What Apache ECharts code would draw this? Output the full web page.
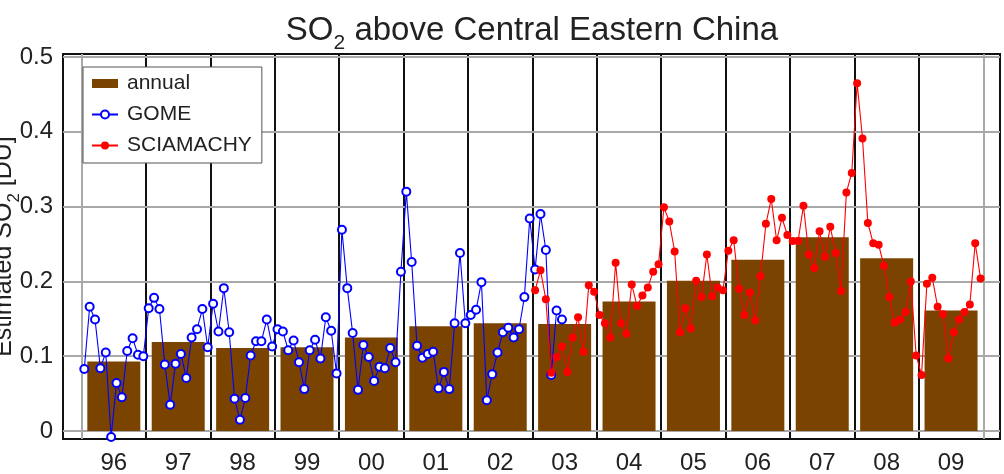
<!DOCTYPE html>
<html>
<head>
<meta charset="utf-8">
<script src="https://cdn.jsdelivr.net/npm/echarts@6/dist/echarts.min.js"></script>
<style>
  html, body { margin: 0; padding: 0; background: #fff; }
  #chart { width: 1004px; height: 474px; }
</style>
</head>
<body>
<div id="chart"></div>
<script>
// year labels on the x axis
const years = ['96', '97', '98', '99', '00', '01', '02', '03', '04', '05', '06', '07', '08', '09'];
const firstYear = 1996;
// annual means (bars)
const annualValues = [0.093, 0.119, 0.111, 0.112, 0.125, 0.140, 0.144, 0.143, 0.173, 0.201, 0.229, 0.259, 0.231, 0.161];
// GOME monthly, Jan 1996 - Jun 2003
const gomeValues = [
  0.083, 0.166, 0.149, 0.084, 0.105, -0.008, 0.064, 0.045, 0.107, 0.124, 0.102, 0.100,
  0.164, 0.178, 0.163, 0.089, 0.035, 0.090, 0.103, 0.071, 0.125, 0.136, 0.163, 0.112,
  0.170, 0.133, 0.191, 0.132, 0.043, 0.015, 0.044, 0.101, 0.120, 0.120, 0.149, 0.113,
  0.136, 0.133, 0.108, 0.121, 0.092, 0.056, 0.108, 0.122, 0.097, 0.152, 0.134, 0.077,
  0.269, 0.191, 0.131, 0.055, 0.115, 0.099, 0.067, 0.086, 0.084, 0.111, 0.092, 0.213,
  0.320, 0.226, 0.114, 0.098, 0.103, 0.106, 0.057, 0.079, 0.056, 0.144, 0.238, 0.144,
  0.155, 0.162, 0.199, 0.041, 0.076, 0.105, 0.132, 0.138, 0.125, 0.136, 0.179, 0.284,
  0.216, 0.290, 0.242, 0.075, 0.161, 0.149
];
const gomeStart = 1996;
// SCIAMACHY monthly, Jan 2003 - Dec 2009
const sciaValues = [
  0.188, 0.215, 0.176, 0.078, 0.099, 0.113, 0.079, 0.125, 0.152, 0.106, 0.195, 0.186,
  0.155, 0.144, 0.125, 0.225, 0.144, 0.130, 0.196, 0.167, 0.181, 0.192, 0.213, 0.223,
  0.299, 0.280, 0.240, 0.132, 0.164, 0.137, 0.201, 0.179, 0.236, 0.180, 0.192, 0.188,
  0.241, 0.255, 0.190, 0.155, 0.185, 0.148, 0.207, 0.277, 0.310, 0.255, 0.285, 0.262,
  0.254, 0.254, 0.301, 0.236, 0.218, 0.267, 0.233, 0.273, 0.238, 0.187, 0.319, 0.345,
  0.465, 0.391, 0.278, 0.251, 0.249, 0.221, 0.179, 0.145, 0.149, 0.159, 0.200, 0.101,
  0.075, 0.197, 0.205, 0.166, 0.156, 0.097, 0.132, 0.149, 0.159, 0.169, 0.251, 0.204
];
const sciaStart = 2003;
// y tick labels
const yTicks = [0, 0.1, 0.2, 0.3, 0.4, 0.5];

const FONT = 'Liberation Sans, Arial, Helvetica, sans-serif';

const annualData = annualValues.map((v, i) => [firstYear + i + 0.5, v]);
const gomeData = gomeValues.map((v, i) => [gomeStart + (i + 0.5) / 12, v]);
const sciaData = sciaValues.map((v, i) => [sciaStart + (i + 0.5) / 12, v]);
const yearMids = years.map((y, i) => firstYear + i + 0.5);

// grid lines: year boundaries and horizontal lines at each tick
const gridLines = [];
for (let i = 0; i <= years.length; i++) {
  const edge = i === 0 || i === years.length;
  gridLines.push({ xAxis: firstYear + i, lineStyle: { color: edge ? '#aaaaaa' : '#111', width: 2, type: 'solid' } });
}
yTicks.forEach(t => {
  gridLines.push({ yAxis: t, lineStyle: { color: '#a8a8a8', width: 2, type: 'solid' } });
});

const subRich = {
  m: { fontSize: 33, fontFamily: FONT, fontWeight: 'normal', color: '#222', verticalAlign: 'bottom', padding: [0, 0, 7, 0] },
  s: { fontSize: 21, fontFamily: FONT, fontWeight: 'normal', color: '#222', verticalAlign: 'bottom' }
};
const nameRich = {
  m: { fontSize: 25, fontFamily: FONT, color: '#222', verticalAlign: 'bottom', padding: [0, 0, 6, 0] },
  s: { fontSize: 17, fontFamily: FONT, color: '#222', verticalAlign: 'bottom' }
};

const yAxisBase = {
  type: 'value',
  min: -0.0107,
  max: 0.504,
  axisLine: { show: false },
  splitLine: { show: false },
  axisTick: {
    show: true,
    inside: true,
    length: 12,
    customValues: yTicks,
    lineStyle: { color: '#111', width: 2 }
  }
};

const chart = echarts.init(document.getElementById('chart'));
chart.setOption({
  animation: false,
  backgroundColor: '#fff',
  title: {
    text: '{m|SO}{s|2}{m| above Central Eastern China}',
    left: 527,
    top: 9,
    textAlign: 'center',
    textStyle: { fontWeight: 'normal', rich: subRich }
  },
  legend: {
    orient: 'vertical',
    left: 83,
    top: 67,
    z: 10,
    backgroundColor: '#fff',
    borderColor: '#555',
    borderWidth: 1,
    borderRadius: 0,
    padding: [6, 10, 7, 8],
    itemWidth: 26,
    itemHeight: 10,
    itemGap: 10,
    textStyle: { fontSize: 21, fontFamily: FONT, color: '#222', padding: [0, 0, 0, 4] },
    data: [
      { name: 'annual', icon: 'path://M0,0H26V9H0Z' },
      { name: 'GOME' },
      { name: 'SCIAMACHY' }
    ]
  },
  grid: {
    left: 63,
    right: 4,
    top: 54,
    bottom: 35,
    outerBoundsMode: 'none',
    containLabel: false,
    show: true,
    borderColor: '#111',
    borderWidth: 2,
    backgroundColor: 'transparent'
  },
  xAxis: {
    type: 'value',
    min: 1995.711,
    max: 2010.26,
    axisLine: { show: false },
    axisTick: { show: false },
    splitLine: { show: false },
    axisLabel: {
      customValues: yearMids,
      margin: 12,
      fontSize: 24,
      fontFamily: FONT,
      color: '#222',
      formatter: v => years[Math.round(v - firstYear - 0.5)]
    }
  },
  yAxis: [
    Object.assign({}, yAxisBase, {
      position: 'left',
      name: '{m|Estimated SO}{s|2}{m| [DU]}',
      nameLocation: 'middle',
      nameRotate: 90,
      nameGap: 40,
      nameMoveOverlap: false,
      nameTextStyle: { rich: nameRich },
      axisLabel: {
        customValues: yTicks,
        margin: 10,
        fontSize: 24,
        fontFamily: FONT,
        color: '#222',
        formatter: v => (Math.abs(v) < 1e-9 ? '0' : v.toFixed(1))
      }
    }),
    Object.assign({}, yAxisBase, {
      position: 'right',
      axisLabel: { show: false }
    })
  ],
  series: [
    {
      name: 'annual',
      type: 'bar',
      data: annualData,
      barWidth: 53,
      z: 2,
      itemStyle: { color: '#7a4300' },
      markLine: {
        silent: true,
        z: 1,
        symbol: 'none',
        label: { show: false },
        animation: false,
        data: gridLines
      }
    },
    {
      name: 'GOME',
      type: 'line',
      data: gomeData,
      z: 3,
      symbol: 'emptyCircle',
      symbolSize: 8,
      color: '#0000ff',
      lineStyle: { color: '#0000ff', width: 1.1 },
      itemStyle: { color: '#0000ff', borderWidth: 2 }
    },
    {
      name: 'SCIAMACHY',
      type: 'line',
      data: sciaData,
      z: 4,
      symbol: 'circle',
      symbolSize: 8,
      color: '#ff0000',
      lineStyle: { color: '#ff0000', width: 1.1 },
      itemStyle: { color: '#ff0000' }
    }
  ]
});
</script>
</body>
</html>
